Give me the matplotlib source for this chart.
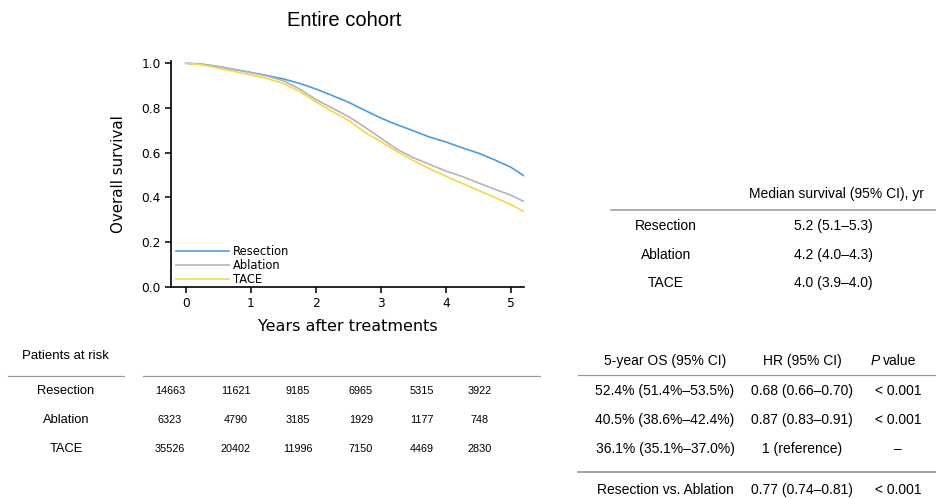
import matplotlib
matplotlib.use("Agg")
import matplotlib.pyplot as plt
from matplotlib.lines import Line2D

W, H = 937, 499

# ---- data ----
years = [0, 0.25, 0.5, 0.75, 1, 1.25, 1.5, 1.75, 2, 2.25, 2.5, 2.75, 3,
         3.25, 3.5, 3.75, 4, 4.25, 4.5, 4.75, 5, 5.2]
resection = [1.0, 0.996, 0.985, 0.972, 0.959, 0.945, 0.930, 0.910, 0.885, 0.856,
             0.826, 0.790, 0.755, 0.725, 0.698, 0.670, 0.648, 0.622, 0.598, 0.568,
             0.535, 0.497]
ablation = [1.0, 0.995, 0.985, 0.972, 0.958, 0.943, 0.922, 0.885, 0.838, 0.800,
            0.762, 0.715, 0.665, 0.615, 0.578, 0.548, 0.518, 0.494, 0.465, 0.437,
            0.410, 0.382]
tace = [1.0, 0.993, 0.978, 0.963, 0.948, 0.932, 0.910, 0.874, 0.828, 0.785,
        0.745, 0.692, 0.650, 0.605, 0.565, 0.528, 0.495, 0.463, 0.432, 0.400,
        0.368, 0.337]
groups = ["Resection", "Ablation", "TACE"]
colors = ["#4A9DE0", "#B5B5B5", "#F7D54F"]

at_risk = {
    "Resection": [14663, 11621, 9185, 6965, 5315, 3922],
    "Ablation": [6323, 4790, 3185, 1929, 1177, 748],
    "TACE": [35526, 20402, 11996, 7150, 4469, 2830],
}
median_surv = ["5.2 (5.1\u20135.3)", "4.2 (4.0\u20134.3)", "4.0 (3.9\u20134.0)"]
os5 = ["52.4% (51.4%\u201353.5%)", "40.5% (38.6%\u201342.4%)", "36.1% (35.1%\u201337.0%)"]
hr = ["0.68 (0.66\u20130.70)", "0.87 (0.83\u20130.91)", "1 (reference)"]
pval = ["< 0.001", "< 0.001", "\u2013"]
compare_label = "Resection vs. Ablation"
compare_hr = "0.77 (0.74\u20130.81)"
compare_p = "< 0.001"

fig = plt.figure(figsize=(W / 100, H / 100), dpi=100)

def fx(px):
    return px / W

def fy(py):
    return 1 - py / H

# ---- KM plot ----
ax = fig.add_axes([fx(171), fy(287), fx(524 - 171), (287 - 61) / H])
for vals, c, g in zip([resection, ablation, tace], colors, groups):
    ax.plot(years, vals, color=c, lw=1.2, label=g)
ax.set_xlim(-0.226, 5.2)
ax.set_ylim(0, 1.01)
ax.set_xticks([0, 1, 2, 3, 4, 5])
ax.set_yticks([0, 0.2, 0.4, 0.6, 0.8, 1.0])
ax.set_yticklabels(["0.0", "0.2", "0.4", "0.6", "0.8", "1.0"])
for s in ["top", "right"]:
    ax.spines[s].set_visible(False)
for s in ["left", "bottom"]:
    ax.spines[s].set_linewidth(1.2)
ax.tick_params(direction="out", length=4, width=1.1, labelsize=8.8, colors="black")
ax.set_xlabel("Years after treatments", fontsize=11.5, labelpad=6)
ax.set_ylabel("Overall survival", fontsize=10.8, labelpad=11)
leg = ax.legend(loc="lower left", bbox_to_anchor=(-0.005, -0.026), frameon=False,
                fontsize=8.3, handlelength=4.6, handletextpad=0.3,
                labelspacing=0.1, borderaxespad=0.2)

fig.text(fx(344), fy(20), "Entire cohort", ha="center", va="center",
         fontsize=14.5, family="Liberation Sans")

tf = dict(family="Liberation Sans", va="center", ha="center")
linec = "#9A9A9A"

def hline(x0, x1, y, lw=0.9):
    fig.add_artist(Line2D([fx(x0), fx(x1)], [fy(y), fy(y)], color=linec, lw=lw,
                          transform=fig.transFigure))

# ---- Patients at risk ----
fig.text(fx(65), fy(356), "Patients at risk", fontsize=9.5, **tf)
hline(8, 124, 376)
hline(143, 540, 376)
row_y = [391, 420, 449]
num_x = [170, 236, 298, 361, 422, 480]
for g, y in zip(groups, row_y):
    fig.text(fx(66), fy(y), g, fontsize=9.3, **tf)
    for x, v in zip(num_x, at_risk[g]):
        fig.text(fx(x), fy(y), str(v), fontsize=7.8, **tf)

# ---- Median survival table ----
fig.text(fx(837), fy(194), "Median survival (95% CI), yr", fontsize=10, **tf)
hline(611, 937, 210, lw=1.1)
med_y = [226, 255, 283]
for g, v, y in zip(groups, median_surv, med_y):
    fig.text(fx(666), fy(y), g, fontsize=10, **tf)
    fig.text(fx(833), fy(y), v, fontsize=10, **tf)

# ---- OS / HR table ----
c1, c2, c3 = 665, 802, 898
hy = 361
fig.text(fx(c1), fy(hy), "5-year OS (95% CI)", fontsize=10, **tf)
fig.text(fx(c2), fy(hy), "HR (95% CI)", fontsize=10, **tf)
fig.text(fx(880), fy(hy), "P", fontsize=10, style="italic", family="Liberation Sans",
         va="center", ha="right")
fig.text(fx(883), fy(hy), "value", fontsize=10, family="Liberation Sans",
         va="center", ha="left")
hline(578, 937, 375)
for a, b, c, y in zip(os5, hr, pval, row_y):
    fig.text(fx(c1), fy(y), a, fontsize=10, **tf)
    fig.text(fx(c2), fy(y), b, fontsize=10, **tf)
    fig.text(fx(c3), fy(y), c, fontsize=10, **tf)
hline(578, 937, 472, lw=1.3)
fig.text(fx(c1), fy(490), compare_label, fontsize=10, **tf)
fig.text(fx(c2), fy(490), compare_hr, fontsize=10, **tf)
fig.text(fx(c3), fy(490), compare_p, fontsize=10, **tf)

fig.savefig("out.png", dpi=100)
